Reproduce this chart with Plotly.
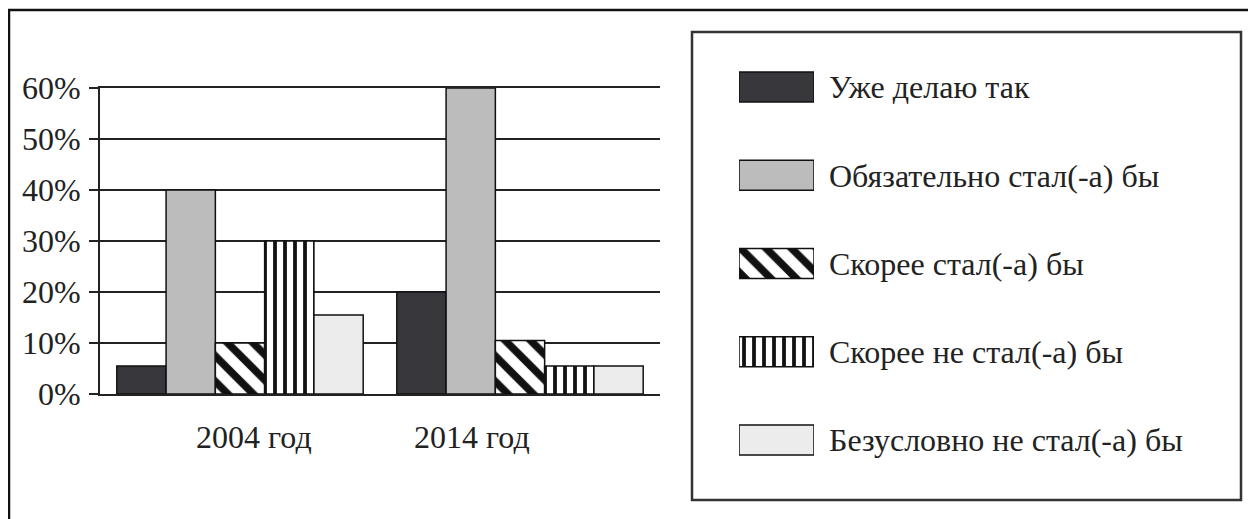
import plotly.graph_objects as go

# ---- data ----
categories = ["2004 год", "2014 год"]
series_names = [
    "Уже делаю так",
    "Обязательно стал(-а) бы",
    "Скорее стал(-а) бы",
    "Скорее не стал(-а) бы",
    "Безусловно не стал(-а) бы",
]
already_do = [5.5, 20]
definitely_would = [40, 60]
rather_would = [10, 10.5]
rather_would_not = [30, 5.5]
definitely_would_not = [15.5, 5.5]
y_tick_values = [0, 10, 20, 30, 40, 50, 60]
y_tick_labels = ["0%", "10%", "20%", "30%", "40%", "50%", "60%"]

series_values = [already_do, definitely_would, rather_would, rather_would_not, definitely_would_not]

# ---- styles ----
FONT = "Liberation Serif, Times New Roman, serif"
TEXT = "#222222"
fills = ["#38383c", "#bcbcbc", "white", "white", "#ececec"]
pattern_shapes = ["", "", "\\", "|", ""]
pattern_sizes = [10, 10, 18, 10, 10]
pattern_solid = [0.3, 0.3, 0.42, 0.38, 0.3]

W, H = 1256, 519
PAGE_OFFSET = 8  # the page body margin shifts the figure by 8px
def px_x(v):
    return (v - PAGE_OFFSET) / W
def px_y(v):
    return 1 - (v - PAGE_OFFSET) / H

fig = go.Figure()

def marker_for(i):
    return dict(color=fills[i], line=dict(color="#111111", width=1.5),
                pattern=dict(shape=pattern_shapes[i], size=pattern_sizes[i],
                             solidity=pattern_solid[i], fgcolor="#111111",
                             bgcolor=fills[i], fillmode="replace"))

for i, (name, vals) in enumerate(zip(series_names, series_values)):
    fig.add_trace(go.Bar(x=categories, y=vals, name=name, showlegend=False,
                         marker=marker_for(i), xaxis="x", yaxis="y"))

# legend built as a small horizontal-bar panel (large swatches like the original)
legend_swatch_length = 1
for i, name in enumerate(series_names):
    fig.add_trace(go.Bar(y=[name], x=[legend_swatch_length], orientation="h",
                         showlegend=False, width=0.34, offsetgroup="legend",
                         hoverinfo="skip", marker=marker_for(i),
                         xaxis="x2", yaxis="y2"))

# category labels (positioned like the original, slightly off-centre)
label_shift = [14, -48]
annotations = []
for cat, sh in zip(categories, label_shift):
    annotations.append(dict(x=cat, xref="x", y=px_y(437), yref="paper", xshift=sh,
                            text=cat, showarrow=False, yanchor="middle",
                            font=dict(family=FONT, size=32, color=TEXT)))

fig.update_layout(
    template="none",
    width=W, height=H, autosize=False,
    margin=dict(l=0, r=0, t=0, b=0, pad=0, autoexpand=False),
    paper_bgcolor="white", plot_bgcolor="white",
    barmode="group", bargap=0.12, bargroupgap=0,
    font=dict(family=FONT, color=TEXT),
    xaxis=dict(domain=[px_x(100), px_x(660)], showticklabels=False, ticks="",
               showline=True, linecolor="#222222", linewidth=2, mirror=True,
               showgrid=False, zeroline=False, anchor="y", automargin=False),
    yaxis=dict(domain=[px_y(394), px_y(88)], range=[0, 60], tickvals=y_tick_values,
               ticktext=y_tick_labels, ticks="outside", ticklen=9, tickwidth=2,
               tickcolor="#222222", showline=True, linecolor="#222222", linewidth=2,
               showgrid=True, gridcolor="#222222", gridwidth=2, zeroline=False,
               tickfont=dict(family=FONT, size=32, color=TEXT), ticklabelstandoff=2,
               anchor="x", automargin=False),
    xaxis2=dict(domain=[px_x(739), px_x(814)], range=[0, legend_swatch_length],
                visible=False, anchor="y2", automargin=False),
    yaxis2=dict(domain=[px_y(484), px_y(43)], autorange="reversed", side="right",
                categoryorder="array", categoryarray=series_names,
                showgrid=False, showline=False, ticks="", zeroline=False,
                tickfont=dict(family=FONT, size=32, color=TEXT), ticklabelstandoff=14,
                anchor="x2", automargin=False),
    annotations=annotations,
    shapes=[
        dict(type="rect", xref="paper", yref="paper", x0=px_x(9), x1=px_x(1250),
             y0=-0.1, y1=px_y(10), line=dict(color="#111111", width=2.5), layer="below"),
        dict(type="rect", xref="paper", yref="paper", x0=px_x(692), x1=px_x(1241),
             y0=px_y(500), y1=px_y(32), line=dict(color="#333333", width=2.5), layer="below"),
    ],
)

fig.write_html("out.html")
